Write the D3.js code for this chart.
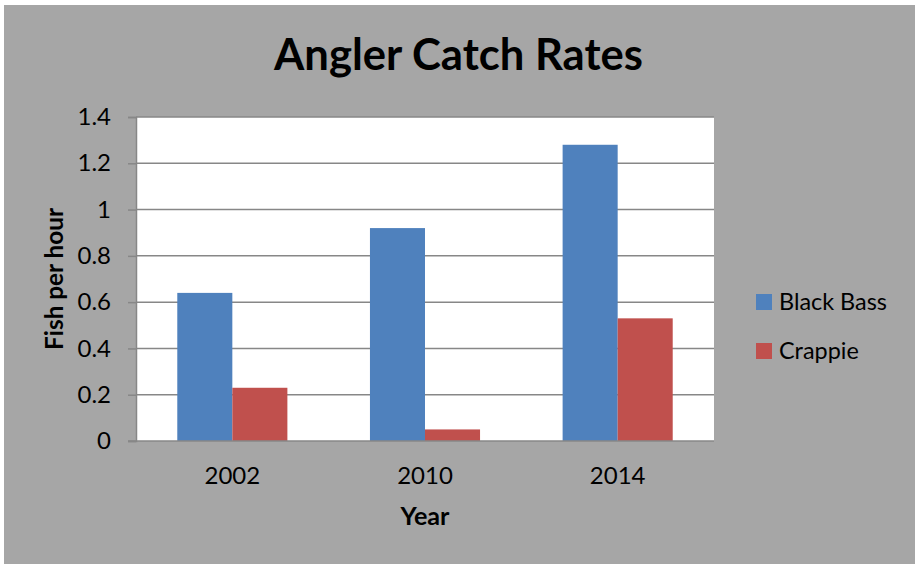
<!DOCTYPE html>
<html>
<head>
<meta charset="utf-8">
<script src="https://cdn.jsdelivr.net/npm/d3@7"></script>
<style>
  body { margin: 0; background: #fff; }
  svg { display: block; font-family: Lato, "Open Sans", sans-serif; }
</style>
</head>
<body>
<div class="container"></div>
<script>
var years = ['2002', '2010', '2014'];
var seriesNames = ['Black Bass', 'Crappie'];
var blackBass = [0.64, 0.92, 1.28];
var crappie = [0.23, 0.05, 0.53];
var yTicks = [0, 0.2, 0.4, 0.6, 0.8, 1, 1.2, 1.4];
var colors = ['#4f81bd', '#c0504d'];

const WIDTH = 915;
const HEIGHT = 564;
const PLOT = {left: 136, top: 117, right: 714, bottom: 441};

var rows = years.map(function (y, i) {
    return {year: y, values: [blackBass[i], crappie[i]]};
});

// shrink/grow a text to a given width so it lines up with the reference
var fitWidth = function (sel, target) {
    sel.each(function () {
        var w = this.getComputedTextLength();
        var fs = parseFloat(d3.select(this).attr('font-size'));
        d3.select(this).attr('font-size', (fs * target / w).toFixed(2));
    });
};

var svg = d3.select('.container').append('svg')
    .attr('width', WIDTH)
    .attr('height', HEIGHT);

svg.append('rect')
    .attr('x', 4).attr('y', 5)
    .attr('width', WIDTH - 4).attr('height', HEIGHT - 5)
    .attr('fill', '#a6a6a6');

var xScale = d3.scaleBand()
    .domain(years)
    .range([PLOT.left, PLOT.right]);

var yScale = d3.scaleLinear()
    .domain([0, 1.4])
    .range([PLOT.bottom, PLOT.top]);

// bar width follows Excel's 150% gap
var barW = xScale.bandwidth() / 3.5;
var inner = d3.scaleBand()
    .domain(d3.range(seriesNames.length))
    .range([0, barW * 2]);

svg.append('rect')
    .attr('x', PLOT.left).attr('y', PLOT.top)
    .attr('width', PLOT.right - PLOT.left)
    .attr('height', PLOT.bottom - PLOT.top)
    .attr('fill', '#fff');

// y axis with gridlines
var yAxis = d3.axisLeft(yScale)
    .tickValues(yTicks)
    .tickSize(8)
    .tickPadding(17)
    .tickFormat(function (d) { return d3.format('')(d); });

var gy = svg.append('g')
    .attr('transform', 'translate(' + PLOT.left + ',0)')
    .call(yAxis);
gy.select('.domain').attr('stroke', '#878787').attr('stroke-width', 1.5);
gy.selectAll('.tick line').attr('stroke', '#878787').attr('stroke-width', 1.5);
gy.selectAll('.tick text')
    .attr('font-size', 24)
    .attr('font-family', 'Lato')
    .attr('fill', '#000');

svg.append('g').selectAll('line')
    .data(yTicks.slice(1))
    .enter().append('line')
    .attr('x1', PLOT.left).attr('x2', PLOT.right)
    .attr('y1', function (d) { return yScale(d); })
    .attr('y2', function (d) { return yScale(d); })
    .attr('stroke', '#878787')
    .attr('stroke-width', 1.5);

// bars
var groups = svg.append('g').selectAll('g')
    .data(rows)
    .enter().append('g')
    .attr('transform', function (r) {
        return 'translate(' + (xScale(r.year) + xScale.bandwidth() / 2 - barW) + ',0)';
    });

groups.selectAll('rect')
    .data(function (r) { return r.values; })
    .enter().append('rect')
    .attr('x', function (v, i) { return inner(i); })
    .attr('width', inner.bandwidth())
    .attr('y', function (v) { return yScale(v); })
    .attr('height', function (v) { return yScale(0) - yScale(v); })
    .attr('fill', function (v, i) { return colors[i]; });

// x axis
var gx = svg.append('g')
    .attr('transform', 'translate(0,' + PLOT.bottom + ')')
    .call(d3.axisBottom(xScale).tickSize(0).tickPadding(26));
gx.select('.domain')
    .attr('d', 'M' + (PLOT.left - 8) + ',0H' + PLOT.right)
    .attr('stroke', '#878787').attr('stroke-width', 1.5);
gx.selectAll('.tick text')
    .attr('font-size', 24)
    .attr('font-family', 'Lato')
    .attr('fill', '#000');

// titles
svg.append('text')
    .attr('x', 458.5).attr('y', 70)
    .attr('text-anchor', 'middle')
    .attr('font-size', 44)
    .attr('font-weight', 'bold')
    .text('Angler Catch Rates')
    .call(fitWidth, 369);

svg.append('text')
    .attr('transform', 'translate(63,' + ((PLOT.top + PLOT.bottom) / 2) + ') rotate(-90)')
    .attr('text-anchor', 'middle')
    .attr('font-size', 24)
    .attr('font-weight', 'bold')
    .text('Fish per hour')
    .call(fitWidth, 142);

svg.append('text')
    .attr('x', (PLOT.left + PLOT.right) / 2).attr('y', 525)
    .attr('text-anchor', 'middle')
    .attr('font-size', 24)
    .attr('font-weight', 'bold')
    .text('Year')
    .call(fitWidth, 49);

// legend
var legend = svg.append('g').selectAll('g')
    .data(seriesNames)
    .enter().append('g')
    .attr('transform', function (d, i) { return 'translate(756,' + (294 + i * 49) + ')'; });

legend.append('rect')
    .attr('width', 16).attr('height', 16)
    .attr('fill', function (d, i) { return colors[i]; });

legend.append('text')
    .attr('x', 23).attr('y', 16)
    .attr('font-size', 24)
    .text(function (d) { return d; });
legend.filter(function (d, i) { return i === 0; }).select('text').call(fitWidth, 108);
legend.filter(function (d, i) { return i === 1; }).select('text')
    .attr('font-size', function () {
        return d3.select(legend.nodes()[0]).select('text').attr('font-size');
    });
</script>
</body>
</html>
